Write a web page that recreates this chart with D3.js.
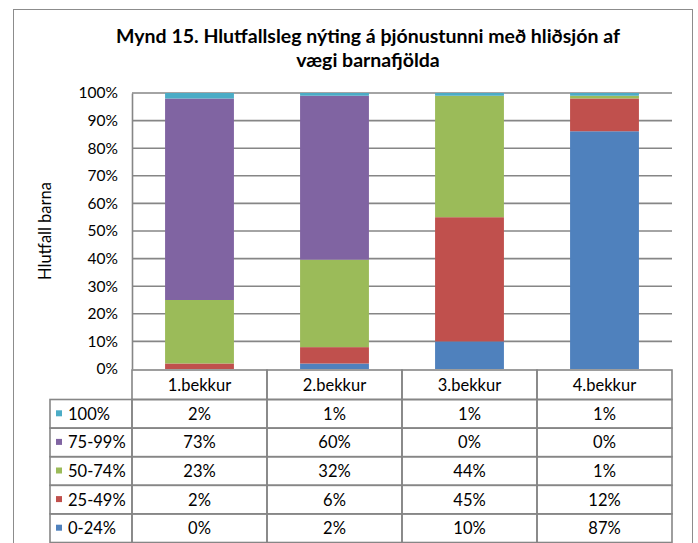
<!DOCTYPE html>
<html><head><meta charset="utf-8">
<script src="https://cdn.jsdelivr.net/npm/d3@7"></script>
<style>body{margin:0;background:#fff}svg{display:block;font-family:Lato,"Open Sans",sans-serif}</style>
</head><body>
<svg id="c" width="698" height="543"></svg>
<script>
const categories = ["1.bekkur","2.bekkur","3.bekkur","4.bekkur"];
const seriesNames = ["0-24%","25-49%","50-74%","75-99%","100%"];
const v0_24   = [0, 2, 10, 87];
const v25_49  = [2, 6, 45, 12];
const v50_74  = [23, 32, 44, 1];
const v75_99  = [73, 60, 0, 0];
const v100    = [2, 1, 1, 1];
const yTicks = [0,0.1,0.2,0.3,0.4,0.5,0.6,0.7,0.8,0.9,1];
const title = ["Mynd 15. Hlutfallsleg nýting á þjónustunni með hliðsjón af","vægi barnafjölda"];
const yLabel = "Hlutfall barna";
const colors = ["#4F81BD","#C0504D","#9BBB59","#8064A2","#4BACC6"];

const seriesValues = [v0_24, v25_49, v50_74, v75_99, v100];
const rows = categories.map((c,i)=>{const o={cat:c}; seriesNames.forEach((s,j)=>o[s]=seriesValues[j][i]); return o;});

const svg = d3.select("#c");
const L=132, R=672, T=93, B=369;
const x = d3.scaleBand().domain(categories).range([L,R]).paddingInner(0.49).paddingOuter(0.245);
const xc = d3.scaleBand().domain(categories).range([L,R]);
const y = d3.scaleLinear().domain([0,1]).range([B,T]);
const color = d3.scaleOrdinal().domain(seriesNames).range(colors);

// frame
svg.append("rect").attr("x",13.5).attr("y",9.5).attr("width",679).attr("height",560)
  .attr("fill","#fff").attr("stroke","#8c8c8c").attr("stroke-width",1);

// title
svg.append("text").attr("x",368).attr("y",43).attr("text-anchor","middle")
  .attr("font-size",19.5).attr("font-weight","bold").attr("fill","#000")
  .selectAll("tspan").data(title).join("tspan").attr("x",368).attr("dy",(d,i)=>i?24:0).text(d=>d);

// gridlines
svg.append("g").selectAll("line").data(yTicks.filter(d=>d>0)).join("line")
  .attr("x1",L).attr("x2",R).attr("y1",d=>y(d)).attr("y2",d=>y(d))
  .attr("stroke","#868686").attr("stroke-width",1.6);

// y axis
const ya = svg.append("g").attr("transform",`translate(${L},0)`)
  .call(d3.axisLeft(y).tickValues(yTicks).tickFormat(d3.format(".0%")).tickSize(0).tickPadding(14));
ya.select(".domain").attr("stroke","#868686").attr("stroke-width",1.6);
ya.selectAll("text").attr("font-size",15.5).attr("font-family","Lato,sans-serif").attr("fill","#000");

svg.append("text").attr("transform",`translate(51,231) rotate(-90)`).attr("text-anchor","middle")
  .attr("font-size",16.5).attr("fill","#000").text(yLabel);

// bars
const stack = d3.stack().keys(seriesNames).offset(d3.stackOffsetExpand);
const stacked = stack(rows);
svg.append("g").selectAll("g").data(stacked).join("g").attr("fill",d=>color(d.key))
  .selectAll("rect").data(d=>d).join("rect")
  .attr("x",d=>x(d.data.cat)).attr("width",x.bandwidth())
  .attr("y",d=>y(d[1])).attr("height",d=>Math.max(0,y(d[0])-y(d[1])));

// table
const tTop=370, hH=29.5, rH=28.6, tLeft=50, fs=16.5;
const tbl = svg.append("g");
const lineC="#868686";
tbl.append("g").selectAll("rect").data(categories).join("rect")
  .attr("x",d=>xc(d)).attr("y",tTop).attr("width",xc.bandwidth()).attr("height",hH)
  .attr("fill","none").attr("stroke",lineC).attr("stroke-width",1.6);
tbl.append("g").selectAll("text").data(categories).join("text")
  .attr("x",d=>xc(d)+xc.bandwidth()/2).attr("y",tTop+hH/2).attr("dy","0.36em")
  .attr("text-anchor","middle").attr("font-size",fs).attr("fill","#000").text(d=>d);

const tableOrder = seriesNames.slice().reverse();
const rowG = tbl.append("g").selectAll("g").data(tableOrder).join("g")
  .attr("transform",(d,i)=>`translate(0,${tTop+hH+i*rH})`);
rowG.append("rect").attr("x",tLeft).attr("y",0).attr("width",L-tLeft).attr("height",rH)
  .attr("fill","none").attr("stroke",lineC).attr("stroke-width",1.6);
rowG.append("rect").attr("x",tLeft+6).attr("y",rH/2-3.5).attr("width",6).attr("height",6)
  .attr("fill",d=>color(d));
rowG.append("text").attr("x",tLeft+18).attr("y",rH/2).attr("dy","0.36em")
  .attr("font-size",fs).attr("fill","#000").text(d=>d);
rowG.each(function(s){
  const g=d3.select(this);
  const vals = seriesValues[seriesNames.indexOf(s)];
  g.selectAll("rect.c").data(categories).join("rect").attr("class","c")
    .attr("x",d=>xc(d)).attr("y",0).attr("width",xc.bandwidth()).attr("height",rH)
    .attr("fill","none").attr("stroke",lineC).attr("stroke-width",1.6);
  g.selectAll("text.v").data(categories).join("text").attr("class","v")
    .attr("x",d=>xc(d)+xc.bandwidth()/2).attr("y",rH/2).attr("dy","0.36em")
    .attr("text-anchor","middle").attr("font-size",fs).attr("fill","#000")
    .text((d,i)=>vals[i]+"%");
});
</script>
</body></html>
